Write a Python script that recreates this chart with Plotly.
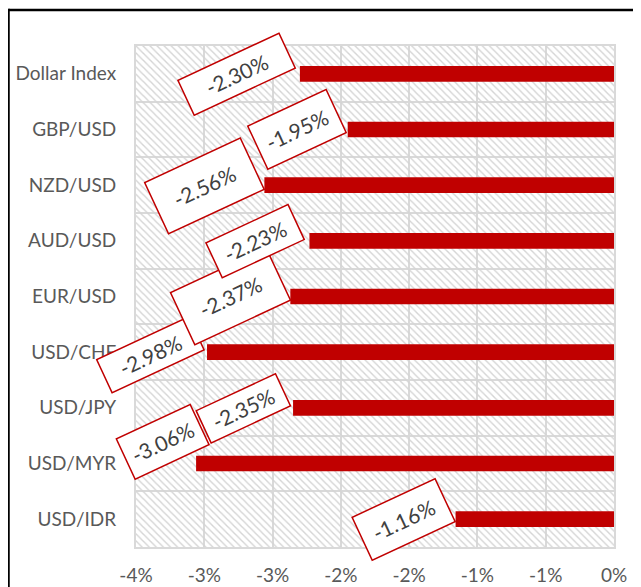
import plotly.graph_objects as go

# ---------------- data ----------------
categories = ["Dollar Index", "GBP/USD", "NZD/USD", "AUD/USD", "EUR/USD",
              "USD/CHF", "USD/JPY", "USD/MYR", "USD/IDR"]
changes = [-2.30, -1.95, -2.56, -2.23, -2.37, -2.98, -2.35, -3.06, -1.16]
x_tick_vals = [-3.5, -3.0, -2.5, -2.0, -1.5, -1.0, -0.5, 0.0]
x_tick_labels = ["-4%", "-3%", "-3%", "-2%", "-2%", "-1%", "-1%", "0%"]

# ---------------- label layout (pixel offsets from bar end, box sizes) ----------------
label_dx = [-63, -51, -60, -54, -60, -57, -50, -34, -52]
label_dy = [0, 0, -1, 0, 0, -3, -1, 22, 0]
label_w = [110, 85, 104, 89, 104, 100, 86, 80, 90]
label_h = [37, 46, 55, 37, 56, 35, 34, 43, 46]

# page body adds an 8px offset; size figure to fit the window
OFF = 8
W, H = 641 - OFF, 587 - OFF
ML, MR, MT, MB = 128, 27, 38, 40
PW, PH = W - ML - MR, H - MT - MB
x_min, x_max = x_tick_vals[0], x_tick_vals[-1]
n = len(categories)

RED = "#c00000"
GRID = "#d9d9d9"
FONT = "Lato"

fig = go.Figure()

# hatched plot background
fig.add_trace(go.Bar(
    y=categories, x=[x_max - x_min] * n, base=x_min,
    orientation="h", width=1,
    marker=dict(color="rgba(0,0,0,0)", line=dict(width=0),
                pattern=dict(shape="\\", fgcolor="#d4d4d4", size=5, solidity=0.28)),
    hoverinfo="skip", showlegend=False))

# data bars
fig.add_trace(go.Bar(
    y=categories, x=changes, orientation="h", width=0.28,
    marker=dict(color=RED, line=dict(width=0)), showlegend=False))

# rotated data labels (drawn bottom-up so upper ones sit on top)
for i in reversed(range(n)):
    fig.add_annotation(
        x=changes[i], y=categories[i], xref="x", yref="y",
        text=f"{changes[i]:.2f}%", showarrow=False,
        xanchor="center", yanchor="middle",
        xshift=label_dx[i], yshift=label_dy[i],
        textangle=-25, width=label_w[i], height=label_h[i],
        bgcolor="white", bordercolor=RED, borderwidth=1.5, borderpad=0,
        font=dict(family=FONT, size=21, color="#404040"))

def px_to_paper_x(p):
    return (p - ML) / PW

def px_to_paper_y(p):
    return (H - MB - p) / PH

# outer chart border (only top and left edges visible in the crop)
border = dict(color="black", width=2.5)
fig.add_shape(type="line", xref="paper", yref="paper",
              x0=px_to_paper_x(0.5), x1=px_to_paper_x(W + 20),
              y0=px_to_paper_y(2), y1=px_to_paper_y(2), line=border, layer="above")
fig.add_shape(type="line", xref="paper", yref="paper",
              x0=px_to_paper_x(0.5), x1=px_to_paper_x(0.5),
              y0=px_to_paper_y(0.8), y1=px_to_paper_y(H + 20), line=border, layer="above")

fig.update_layout(
    width=W, height=H, template="none",
    margin=dict(l=ML, r=MR, t=MT, b=MB, pad=0),
    paper_bgcolor="white", plot_bgcolor="white",
    barmode="overlay", showlegend=False,
    font=dict(family=FONT, size=19, color="#595959"),
    xaxis=dict(range=[x_min, x_max], tickvals=x_tick_vals, ticktext=x_tick_labels,
               showgrid=True, gridcolor=GRID, gridwidth=2, zeroline=False,
               showline=True, mirror=True, linecolor=GRID, linewidth=2,
               ticks="", ticklabelstandoff=10, automargin=False,
               tickfont=dict(family=FONT, size=19, color="#595959")),
    yaxis=dict(type="category", range=[n - 0.5, -0.5], autorange=False,
               tickson="boundaries",
               showgrid=True, gridcolor=GRID, gridwidth=2, zeroline=False,
               showline=True, mirror=True, linecolor=GRID, linewidth=2,
               ticks="", ticklabelstandoff=14, automargin=False,
               tickfont=dict(family=FONT, size=19, color="#595959")),
)

fig.write_html("out.html")
